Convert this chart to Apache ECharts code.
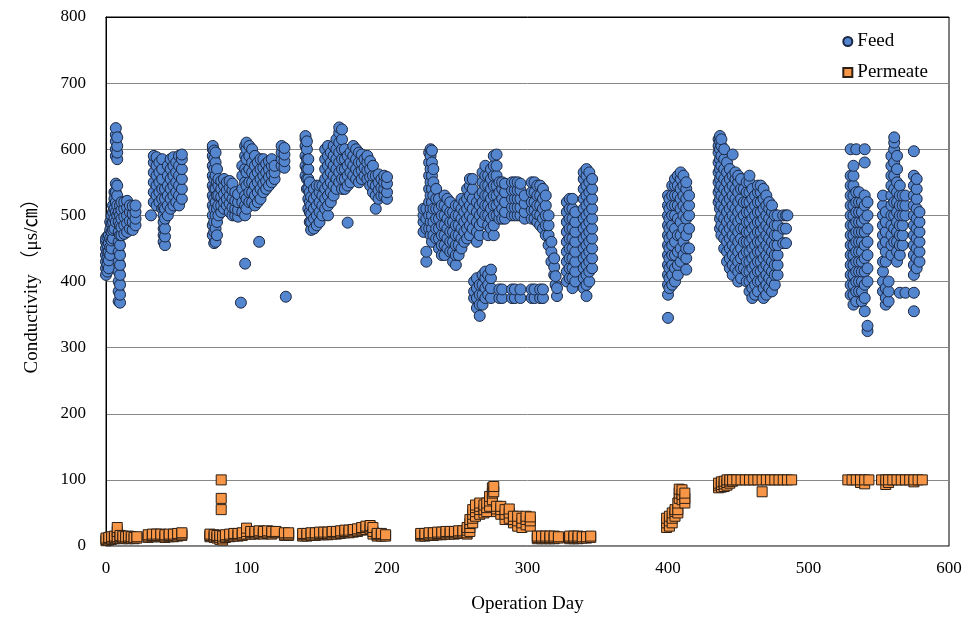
<!DOCTYPE html>
<html>
<head>
<meta charset="utf-8">
<title>Conductivity</title>
<script src="https://cdn.jsdelivr.net/npm/echarts@6/dist/echarts.min.js"></script>
<style>
    html, body { margin: 0; padding: 0; background: #fff; }
    #char { width: 977px; height: 638px; }
</style>
</head>
<body>
<div id="char"></div>
<script>
// 每一列: [运行天数, [电导率...]] 
var feedCols = [
    [0, [410, 420, 430, 440, 450, 460, 465]],
    [1, [415, 425, 435, 445, 455, 468]],
    [2, [420, 432, 445, 458, 470]],
    [3, [440, 452, 465, 478, 490]],
    [4, [450, 462, 475, 488, 500]],
    [5, [465, 478, 490, 505, 515]],
    [6, [480, 495, 510, 525, 535]],
    [7, [490, 505, 520, 535, 548, 590, 600, 612, 622, 632]],
    [8, [500, 515, 530, 545, 585, 595, 605, 618]],
    [9, [370, 385, 400, 415, 430, 445, 460, 475, 490, 505]],
    [10, [368, 380, 395, 410, 425, 440, 455, 470, 485, 500, 515]],
    [11, [470, 482, 495, 508, 520]],
    [13, [472, 485, 498, 510, 520]],
    [15, [475, 488, 500, 512, 522]],
    [17, [480, 492, 505, 515]],
    [19, [478, 490, 502, 514]],
    [21, [485, 495, 505, 515]],

    [32, [500]],
    [34, [520, 535, 550, 565, 580, 590]],
    [36, [515, 530, 545, 560, 575, 588]],
    [38, [520, 535, 550, 565, 580]],
    [40, [510, 525, 540, 555, 570, 585]],
    [41, [460, 470, 480, 490, 500, 512]],
    [42, [455, 468, 480, 495, 510, 525, 540]],
    [44, [500, 515, 530, 545, 560, 575]],
    [46, [510, 525, 540, 555, 570, 585]],
    [48, [515, 530, 545, 560, 575, 588]],
    [50, [520, 535, 550, 565, 580]],
    [52, [515, 530, 545, 560, 575, 590]],
    [54, [525, 540, 555, 570, 585, 592]],

    [76, [470, 485, 500, 515, 530, 545, 560, 575, 590, 600, 605]],
    [77, [458, 475, 490, 510, 525, 540, 555, 570, 585, 598]],
    [78, [460, 480, 500, 520, 540, 560, 580, 595]],
    [79, [470, 490, 510, 530, 550, 570]],
    [80, [500, 515, 530, 545, 555]],
    [82, [505, 515, 528, 540, 552]],
    [84, [510, 520, 532, 545, 555]],
    [86, [515, 525, 538, 550]],
    [88, [505, 518, 530, 542, 552]],
    [90, [500, 512, 525, 538, 548]],
    [92, [500, 510, 522, 535]],
    [94, [498, 508, 520, 532]],
    [96, [368]],
    [97, [505, 520, 540, 560, 575]],
    [99, [427, 500, 515, 530, 550, 570, 590, 605]],
    [100, [510, 525, 545, 565, 585, 600, 610]],
    [102, [520, 535, 550, 570, 590, 605]],
    [104, [520, 535, 550, 565, 580, 600]],
    [106, [515, 530, 545, 560, 575, 590]],
    [108, [520, 535, 550, 565, 580]],
    [109, [460]],
    [110, [525, 540, 555, 570, 585]],
    [112, [535, 548, 560, 572, 585]],
    [114, [540, 552, 565, 578]],
    [116, [545, 558, 570, 582]],
    [118, [550, 562, 575, 585]],
    [120, [555, 565, 575]],
    [125, [575, 585, 595, 605]],
    [127, [572, 582, 592, 602]],
    [128, [377]],

    [142, [560, 575, 590, 605, 615, 620]],
    [143, [540, 555, 570, 585, 600, 612]],
    [144, [510, 525, 540, 555, 570, 585]],
    [145, [490, 505, 520, 535, 550]],
    [146, [478, 490, 502, 515, 528]],
    [148, [480, 495, 510, 525, 540]],
    [150, [485, 500, 515, 530, 545]],
    [152, [490, 505, 520, 535, 545]],
    [154, [500, 515, 530, 545]],
    [156, [510, 525, 540, 555, 570, 585, 600]],
    [158, [500, 515, 530, 545, 560, 575, 590, 605]],
    [160, [520, 535, 550, 565, 580, 595]],
    [162, [530, 545, 560, 575, 590, 605]],
    [164, [540, 555, 570, 585, 600, 615]],
    [166, [550, 565, 580, 595, 610, 625, 633]],
    [168, [540, 555, 570, 585, 600, 615, 630]],
    [170, [540, 555, 570, 585, 600]],
    [172, [489, 545, 560, 575, 590]],
    [174, [550, 565, 580, 595]],
    [176, [560, 575, 590, 605]],
    [178, [555, 570, 585, 600]],
    [180, [550, 565, 580, 595]],
    [182, [555, 568, 580, 592]],
    [184, [560, 572, 585]],
    [186, [555, 568, 580, 590]],
    [188, [545, 558, 570, 582]],
    [190, [535, 548, 560, 575]],
    [192, [510, 530, 545, 560]],
    [194, [525, 538, 550, 562]],
    [196, [530, 542, 555]],
    [198, [530, 540, 550, 560]],
    [200, [525, 535, 548, 558]],

    [226, [475, 490, 500, 510]],
    [228, [430, 445, 480, 495, 510]],
    [230, [480, 500, 520, 540, 560, 580, 595]],
    [231, [470, 490, 510, 530, 550, 570, 590, 600]],
    [232, [460, 480, 500, 520, 540, 560, 580, 598]],
    [233, [470, 490, 510, 530, 550, 570]],
    [235, [465, 480, 495, 510, 525, 540]],
    [237, [450, 465, 480, 495, 510, 525]],
    [239, [440, 455, 470, 485, 500, 515]],
    [241, [440, 455, 470, 485, 500, 515, 530]],
    [243, [450, 465, 480, 495, 510, 525]],
    [245, [445, 460, 475, 490, 505, 520]],
    [247, [430, 445, 460, 475, 490, 505]],
    [249, [425, 440, 455, 470, 485, 500, 515]],
    [251, [440, 455, 470, 485, 500, 515]],
    [253, [450, 465, 480, 495, 510, 525]],
    [255, [460, 475, 490, 505, 520]],
    [257, [465, 480, 495, 510, 525, 540]],
    [259, [470, 485, 500, 515, 530, 545, 555]],
    [261, [480, 495, 510, 525, 540, 555]],
    [262, [375, 385, 400]],
    [264, [360, 375, 390, 405, 460, 475, 490, 505, 520]],
    [266, [348, 365, 380, 395, 470, 485, 500, 515, 530]],
    [268, [365, 380, 395, 410, 490, 505, 520, 535, 550, 565]],
    [270, [375, 390, 405, 415, 500, 515, 530, 545, 560, 575]],
    [272, [380, 395, 410, 470, 485, 500, 515, 530, 545, 560]],
    [274, [375, 390, 405, 418, 480, 495, 510, 525, 540, 555, 570]],
    [276, [470, 485, 500, 515, 530, 545, 560, 575, 590]],
    [278, [500, 515, 530, 545, 560, 575, 592]],
    [280, [375, 388, 495, 505, 520, 535, 550]],
    [282, [375, 388, 495, 510, 525, 540, 550]],
    [284, [495, 505, 520, 535, 548]],
    [289, [375, 388, 500, 512, 525, 538, 550]],
    [291, [375, 388, 500, 512, 525, 538, 550]],
    [293, [500, 512, 525, 538, 550]],
    [295, [375, 388, 500, 512, 525, 538, 548]],
    [298, [495, 505, 518, 530]],
    [303, [375, 388, 495, 508, 520, 535, 550]],
    [305, [375, 388, 495, 508, 520, 535, 550]],
    [307, [490, 502, 515, 530, 545]],
    [309, [375, 388, 485, 500, 515, 530, 545]],
    [311, [375, 388, 480, 495, 510, 525, 540]],
    [313, [470, 485, 500, 515, 530]],
    [315, [455, 470, 485, 500]],
    [317, [430, 445, 460]],
    [319, [410, 422, 435]],
    [320, [395, 408]],
    [321, [378, 390]],

    [328, [400, 415, 430, 445, 460, 475, 490, 505, 520]],
    [330, [405, 420, 435, 450, 465, 480, 495, 510, 525]],
    [332, [390, 405, 420, 435, 450, 465, 480, 495, 510, 525]],
    [334, [400, 415, 430, 445, 460, 475, 490, 505]],
    [340, [390, 405, 420, 435, 450, 465, 480, 495, 510, 525, 540, 555, 565]],
    [342, [378, 395, 410, 425, 440, 455, 470, 485, 500, 515, 530, 545, 560, 570]],
    [344, [400, 415, 430, 445, 460, 475, 490, 505, 520, 535, 550, 565]],
    [346, [420, 435, 450, 465, 480, 495, 510, 525, 540, 555]],

    [400, [345, 380, 395, 410, 425, 440, 455, 470, 485, 500, 515, 530]],
    [401, [390, 405, 420, 435, 450, 465, 480, 495, 510, 525]],
    [403, [395, 410, 425, 440, 455, 470, 485, 500, 515, 530, 545]],
    [405, [400, 420, 440, 460, 480, 500, 515, 530, 545, 555]],
    [407, [410, 425, 445, 470, 495, 515, 530, 545, 560]],
    [409, [430, 450, 470, 490, 510, 525, 540, 555, 565]],
    [411, [440, 460, 480, 500, 515, 530, 545, 560]],
    [413, [418, 435, 450, 470, 495, 510, 525, 540, 550]],
    [415, [450, 480, 500, 515, 530]],

    [436, [520, 535, 550, 565, 580, 595, 605, 615]],
    [437, [480, 495, 510, 525, 540, 555, 570, 585, 600, 612, 620]],
    [438, [470, 485, 500, 515, 530, 545, 560, 575, 590, 605, 615]],
    [440, [450, 465, 480, 495, 510, 525, 540, 555, 570, 585, 600]],
    [442, [430, 445, 460, 475, 490, 505, 520, 535, 550, 565, 580]],
    [444, [420, 435, 450, 465, 480, 495, 510, 525, 540, 555, 570]],
    [446, [410, 425, 440, 455, 470, 485, 500, 515, 530, 545, 560, 592]],
    [448, [420, 435, 450, 465, 480, 495, 510, 525, 540, 555, 565]],
    [450, [400, 415, 430, 445, 460, 475, 490, 505, 520, 535, 550, 560]],
    [452, [405, 420, 435, 450, 465, 480, 495, 510, 525, 540, 555]],
    [454, [420, 440, 460, 480, 500, 520, 540]],
    [456, [400, 415, 430, 445, 460, 475, 490, 505, 520, 535, 550]],
    [458, [385, 400, 415, 430, 445, 460, 475, 490, 505, 520, 535, 550, 560]],
    [460, [375, 390, 405, 420, 435, 450, 465, 480, 495, 510, 525, 540]],
    [462, [380, 395, 410, 425, 440, 455, 470, 485, 500, 515, 530]],
    [464, [385, 400, 415, 430, 445, 460, 475, 490, 505, 520, 535, 545]],
    [466, [400, 415, 430, 445, 460, 475, 490, 505, 520, 535, 545]],
    [468, [375, 390, 405, 420, 435, 450, 465, 480, 495, 510, 525, 540]],
    [470, [380, 395, 410, 425, 440, 455, 470, 485, 500, 515, 530]],
    [472, [390, 405, 420, 435, 450, 465, 480, 495, 510, 520]],
    [474, [385, 400, 415, 430, 445, 460, 475, 490, 505, 515]],
    [476, [395, 410, 425, 440, 455, 470, 485, 500]],
    [478, [410, 425, 440, 455, 470, 485, 500]],
    [482, [458, 480, 500]],
    [484, [458, 480, 500]],
    [485, [500]],

    [530, [380, 395, 410, 425, 440, 455, 470, 485, 500, 515, 530, 545, 560, 600]],
    [532, [365, 380, 395, 410, 425, 440, 455, 470, 485, 500, 515, 530, 545, 560, 575]],
    [534, [370, 385, 400, 415, 430, 445, 460, 475, 490, 505, 520, 535, 600]],
    [536, [385, 400, 415, 430, 445, 460, 475, 490, 505, 520, 535]],
    [538, [370, 385, 400, 415, 430, 445, 460, 475, 490, 505, 520]],
    [540, [355, 375, 395, 415, 435, 455, 475, 495, 515, 530, 580, 600]],
    [542, [325, 333, 400, 420, 440, 460, 480, 500, 520]],
    [553, [385, 400, 415, 430, 455, 470, 485, 500, 515, 530]],
    [555, [365, 375, 390, 430, 445, 460, 475, 490, 505]],
    [557, [370, 385, 400]],
    [559, [440, 455, 470, 485, 500, 515, 530, 545, 560, 575, 590]],
    [561, [460, 480, 500, 520, 540, 560, 580, 600, 610, 618]],
    [563, [430, 445, 460, 475, 490, 505, 520, 535, 550, 570, 590]],
    [565, [383, 440, 455, 470, 485, 500, 515, 530, 545]],
    [567, [455, 470, 485, 500, 515, 530]],
    [569, [383, 500, 515, 530]],
    [575, [355, 383, 410, 425, 440, 455, 470, 485, 500, 515, 530, 545, 560, 597]],
    [577, [420, 435, 450, 465, 480, 495, 510, 525, 540, 555]],
    [579, [430, 445, 460, 475, 490, 505]]
];

var permCols = [
    [0, [8, 10, 12]], [2, [9, 11, 13]], [4, [10, 12, 14]], [6, [11, 13, 15]],
    [8, [12, 14, 22, 28]], [10, [12, 14, 16]], [12, [11, 13, 15]], [14, [12, 14]],
    [16, [11, 13, 15]], [18, [12, 14]], [20, [11, 13]], [22, [12, 14]],

    [30, [13, 15, 17]], [33, [14, 16, 18]], [36, [14, 16, 18]], [39, [14, 16, 18]],
    [42, [13, 15, 17]], [45, [14, 16, 18]], [48, [14, 16, 18]], [51, [15, 17, 19]],
    [54, [16, 18, 20]],

    [74, [14, 16, 18]], [77, [13, 15, 17]], [79, [12, 14, 16]], [81, [10, 13, 16]],
    [82, [55, 72, 100]], [83, [9, 12, 15]], [85, [13, 15, 17]], [88, [14, 16, 18]],
    [91, [15, 17, 19]], [94, [15, 17, 19]], [97, [16, 18, 20]], [100, [18, 22, 27]],
    [103, [18, 20, 22]], [106, [18, 20, 22]], [109, [19, 21, 23]], [112, [18, 20, 22]],
    [115, [19, 21, 23]], [118, [18, 20, 22]], [121, [20, 22]], [127, [16, 18, 20]],
    [130, [16, 18, 20]],

    [140, [15, 17, 19]], [143, [15, 17, 19]], [146, [16, 18, 20]], [149, [16, 18, 20]],
    [152, [17, 19, 21]], [155, [17, 19, 21]], [158, [17, 19, 21]], [161, [18, 20, 22]],
    [164, [18, 20, 22]], [167, [19, 21, 23]], [170, [20, 22, 24]], [173, [20, 22, 24]],
    [176, [21, 23, 25]], [179, [22, 24, 26]], [182, [24, 26, 28]], [185, [25, 28, 30]],
    [188, [26, 29, 31]], [190, [18, 22, 28]], [193, [15, 17, 19]], [196, [15, 17, 19]],
    [199, [15, 17]],

    [224, [15, 17, 19]], [227, [15, 17, 19]], [230, [16, 18, 20]], [233, [16, 18, 20]],
    [236, [17, 19, 21]], [239, [17, 19, 21]], [242, [18, 20, 22]], [245, [18, 20, 22]],
    [248, [18, 20, 22]], [251, [19, 21, 23]], [254, [19, 21, 23]], [257, [18, 20, 24, 28]],
    [259, [22, 28, 34, 40]], [261, [35, 42, 48, 55]], [263, [45, 52, 58, 62]],
    [266, [48, 55, 60, 65]], [269, [50, 55, 62]], [271, [52, 58, 65]], [273, [60, 68, 75]],
    [275, [70, 80, 88]], [276, [82, 90]], [278, [52, 56, 60]], [281, [48, 55, 60]],
    [284, [40, 48, 55]], [287, [42, 50, 56]], [290, [35, 40, 45]], [293, [30, 38, 45]],
    [296, [28, 35, 42]], [299, [32, 40, 45]], [302, [30, 38, 44]],

    [307, [11, 13, 15]], [310, [11, 13, 15]], [313, [11, 13, 15]], [316, [11, 13, 15]],
    [319, [11, 13, 15]], [322, [12, 14]], [330, [11, 13, 15]], [333, [11, 13, 15]],
    [336, [11, 13, 15]], [339, [12, 14]], [342, [12, 14]], [345, [13, 15]],

    [399, [28, 35, 42]], [401, [30, 38, 45]], [403, [35, 42, 50]], [405, [45, 52, 55]],
    [407, [50, 55, 65]], [408, [72, 80, 86]], [410, [70, 78, 85]], [412, [65, 72, 80]],

    [436, [88, 92, 95]], [438, [89, 93, 97]], [440, [90, 94, 98]], [442, [92, 96, 100]],
    [444, [95, 98, 100]], [446, [98, 100]], [449, [100]], [452, [100]], [455, [100]],
    [458, [100]], [461, [100]], [464, [100]], [467, [100, 82]], [470, [100]],
    [473, [100]], [476, [100]], [479, [100]], [482, [100]], [485, [100]], [488, [100]],

    [528, [100]], [531, [100]], [534, [100]], [537, [96, 100]], [540, [94, 100]],
    [543, [100]], [552, [100]], [555, [93, 100]], [557, [96, 100]], [560, [100]],
    [563, [100]], [566, [100]], [569, [100]], [572, [100]], [575, [97, 100]],
    [578, [100]], [581, [100]]
];

var yTicks = [0, 100, 200, 300, 400, 500, 600, 700, 800];
var xTicks = [0, 100, 200, 300, 400, 500, 600];

function toPoints(cols) {
    var out = [];
    for (var i = 0; i < cols.length; i++) {
        for (var j = 0; j < cols[i][1].length; j++) {
            out.push([cols[i][0], cols[i][1][j]]);
        }
    }
    return out;
}

var serif = '"Liberation Serif", "Times New Roman", "Noto Sans CJK SC", serif';

var dom = document.getElementById("char");
var myChart = echarts.init(dom);

var option = {
    backgroundColor: '#fff',
    animation: false,
    grid: {
        left: 106,
        right: 28,
        top: 17,
        bottom: 92,
        show: true,
        borderColor: '#000',
        borderWidth: 1
    },
    legend: {
        orient: 'vertical',
        right: 44,
        top: 27,
        itemGap: 12,
        itemWidth: 9,
        itemHeight: 9,
        textStyle: {
            fontFamily: serif,
            fontSize: 19,
            color: '#000'
        },
        data: ['Feed', 'Permeate']
    },
    xAxis: [{
        type: 'value',
        min: xTicks[0],
        max: xTicks[xTicks.length - 1],
        interval: 100,
        name: 'Operation Day',
        nameLocation: 'middle',
        nameGap: 49,
        nameTextStyle: { fontFamily: serif, fontSize: 19, color: '#000' },
        axisLine: { show: true, lineStyle: { color: '#888', width: 1 } },
        axisTick: { show: false },
        axisLabel: { fontFamily: serif, fontSize: 17, color: '#000', margin: 14 },
        splitLine: { show: false }
    }, {
        type: 'value',
        position: 'top',
        min: 0,
        max: 600,
        axisLine: { show: true, onZero: false, lineStyle: { color: '#000', width: 1 } },
        axisTick: { show: false },
        axisLabel: { show: false },
        splitLine: { show: false }
    }],
    yAxis: {
        type: 'value',
        min: yTicks[0],
        max: yTicks[yTicks.length - 1],
        interval: 100,
        name: 'Conductivity （μs/㎝）',
        nameLocation: 'middle',
        nameRotate: 90,
        nameGap: 64,
        nameTextStyle: { fontFamily: serif, fontSize: 19, color: '#000' },
        axisLine: { show: true, lineStyle: { color: '#000', width: 1 } },
        axisTick: { show: false },
        axisLabel: { fontFamily: serif, fontSize: 17, color: '#000', margin: 20 },
        splitLine: { show: true, lineStyle: { color: '#888', width: 1 } }
    },
    series: [
        {
            name: 'Feed',
            type: 'scatter',
            symbol: 'circle',
            symbolSize: 11,
            data: toPoints(feedCols),
            itemStyle: {
                color: '#5485CF',
                borderColor: '#1B2740',
                borderWidth: 1,
                opacity: 1
            }
        },
        {
            name: 'Permeate',
            type: 'scatter',
            symbol: 'rect',
            symbolSize: 10,
            data: toPoints(permCols),
            itemStyle: {
                color: '#F79646',
                borderColor: '#2B1E14',
                borderWidth: 1,
                opacity: 1
            }
        }
    ]
};
myChart.setOption(option);
</script>
</body>
</html>
